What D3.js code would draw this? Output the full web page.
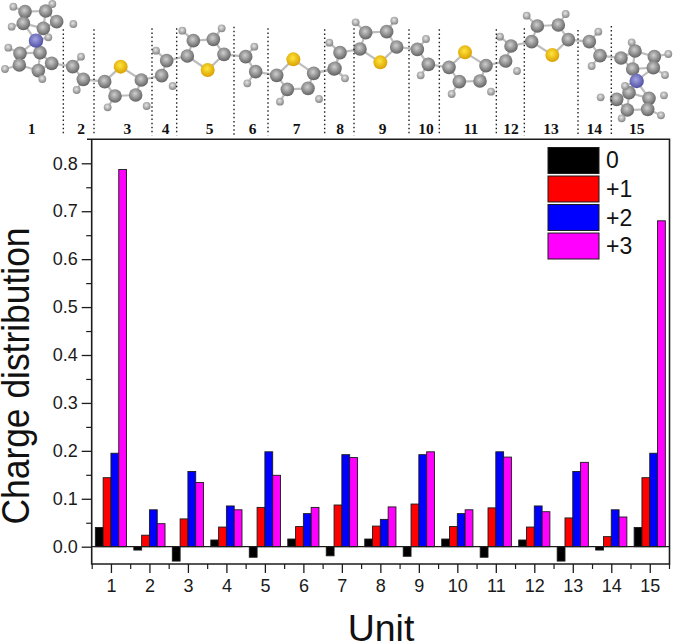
<!DOCTYPE html>
<html><head><meta charset="utf-8">
<script src="https://cdn.jsdelivr.net/npm/d3@7/dist/d3.min.js"></script>
<style>html,body{margin:0;padding:0;background:#fff}svg{display:block}</style>
</head><body><svg id="c" width="675" height="644"></svg>
<script>
const units = d3.range(1, 16);
const seriesNames = ["0", "+1", "+2", "+3"];
const seriesColors = ["#000000", "#ff0000", "#0000ff", "#ff00ff"];
const charge0 = [0.040,-0.007,-0.030,0.014,-0.022,0.016,-0.019,0.016,-0.020,0.016,-0.022,0.014,-0.030,-0.007,0.040];
const charge1 = [0.144,0.024,0.058,0.041,0.082,0.042,0.087,0.043,0.089,0.042,0.081,0.041,0.060,0.021,0.144];
const charge2 = [0.195,0.077,0.157,0.085,0.198,0.069,0.192,0.057,0.192,0.069,0.198,0.085,0.157,0.077,0.195];
const charge3 = [0.787,0.048,0.134,0.077,0.149,0.082,0.186,0.083,0.198,0.077,0.187,0.073,0.176,0.062,0.680];
const yTicks = [0,0.1,0.2,0.3,0.4,0.5,0.6,0.7,0.8];
const yMinor = [0.05,0.15,0.25,0.35,0.45,0.55,0.65,0.75];

// Molecule header, read in two 3x crops of the picture
const unitLabelsL = [[1,95],[2,243],[3,382],[4,497],[5,629],[6,758],[7,890]];
const unitLabelsR = [[8,15],[9,143],[10,273],[11,408],[12,528],[13,648],[14,778],[15,905]];
const dividersL = [[190,88],[282,88],[456,85],[530,85],[702,80],[804,85],[974,88]];
const dividersR = [[57,85],[222,88],[313,88],[484,88],[568,85],[729,90],[829,78]];
const carbonL = [[75,35],[137,33],[70,70],[170,65],[130,85],[60,160],[120,158],[155,190],[58,195],[115,212],[218,200],[250,238],[314,245],[424,240],[345,288],[407,285],[500,182],[485,227],[562,168],[672,163],[580,122],[640,118],[737,170],[767,215],[830,226],[941,220],[862,268],[924,265],[1002,207]];
const carbonR = [[15,158],[0,205],[75,147],[185,141],[92,98],[155,95],[247,148],[280,193],[342,202],[453,197],[373,245],[435,243],[528,138],[512,183],[590,125],[700,119],[607,78],[670,75],[763,125],[795,167],[858,174],[900,153],[958,170],[955,203],[893,207],[882,278],[845,298],[942,295],[877,330],[938,328]];
const hydrogenL = [[40,20],[157,12],[35,80],[220,72],[145,112],[25,143],[15,207],[127,237],[243,170],[230,270],[323,322],[440,318],[468,152],[518,258],[547,92],[665,85],[763,140],[742,250],[840,305],[957,297],[988,128]];
const hydrogenR = [[30,235],[62,67],[178,62],[273,117],[257,226],[350,282],[468,275],[495,110],[546,213],[575,47],[692,42],[790,95],[770,198],[890,127],[1000,162],[990,225],[870,258],[797,292],[987,286],[978,346],[860,355]];
const sulfurL = [[362,200],[623,210],[880,178]];
const sulfurR = [[136,187],[390,157],[652,165]];
const nitrogenL = [[108,122]];
const nitrogenR = [[905,243]];

const svg = d3.select("#c");
const x = d3.scaleLinear().domain([0.5,15.5]).range([91.7,669]);
const y = d3.scaleLinear().domain([0,0.8]).range([546.7,163.3]);
const inner = d3.scaleBand().domain(d3.range(4)).range([-15.6,15.6]);
const ink = "#1c1c1c";
const sans = "'Liberation Sans',Arial,sans-serif";

// Molecule
const cropY = d3.scaleLinear().domain([0,1020]).range([0,340]);
const cropXL = d3.scaleLinear().domain([0,1020]).range([0,340]);
const cropXR = d3.scaleLinear().domain([0,1020]).range([335,675]);
const place = (arr, sx, t) => arr.map(d => ({x:sx(d[0]), y:cropY(d[1]), t}));
const atoms = [].concat(
  place(carbonL,cropXL,"C"),place(carbonR,cropXR,"C"),
  place(hydrogenL,cropXL,"H"),place(hydrogenR,cropXR,"H"),
  place(sulfurL,cropXL,"S"),place(sulfurR,cropXR,"S"),
  place(nitrogenL,cropXL,"N"),place(nitrogenR,cropXR,"N"));
const style = {
  C:{r:6.8,a:"#cfcfcf",b:"#636363"},
  H:{r:3.9,a:"#e6e6e6",b:"#858585"},
  S:{r:7,a:"#ffe53c",b:"#d9a000"},
  N:{r:7.2,a:"#a4a4e6",b:"#4e4ea0"}
};
const defs = svg.append("defs");
Object.entries(style).forEach(([k,s])=>{
  const g = defs.append("radialGradient").attr("id","g"+k).attr("cx","45%").attr("cy","40%").attr("r","60%");
  g.append("stop").attr("offset","0%").attr("stop-color",s.a);
  g.append("stop").attr("offset","100%").attr("stop-color",s.b);
});
const bonds = [];
atoms.forEach((a,i)=>atoms.forEach((b,j)=>{
  if(j<=i) return;
  if(a.t==="H"&&b.t==="H") return;
  const d = Math.hypot(a.x-b.x,a.y-b.y);
  const hasH = a.t==="H"||b.t==="H";
  const hasS = a.t==="S"||b.t==="S";
  if(d < (hasH?15:hasS?26:22.7)) bonds.push([a,b]);
}));
svg.append("g").selectAll("line").data(bonds).join("line")
  .attr("x1",d=>d[0].x).attr("y1",d=>d[0].y).attr("x2",d=>d[1].x).attr("y2",d=>d[1].y)
  .attr("stroke","#bdbdbd").attr("stroke-width",2.2);
svg.append("g").selectAll("circle").data(atoms).join("circle")
  .attr("cx",d=>d.x).attr("cy",d=>d.y).attr("r",d=>style[d.t].r)
  .attr("fill",d=>`url(#g${d.t})`);

const dividers = [].concat(dividersL.map(d=>[cropXL(d[0]),cropY(d[1])]),dividersR.map(d=>[cropXR(d[0]),cropY(d[1])]));
svg.append("g").selectAll("line").data(dividers).join("line")
  .attr("x1",d=>d[0]).attr("x2",d=>d[0]).attr("y1",d=>d[1]).attr("y2",cropY(406))
  .attr("stroke","#222").attr("stroke-width",1.4).attr("stroke-dasharray","1.5 2.6");
const labelsTop = [].concat(unitLabelsL.map(d=>[d[0],cropXL(d[1])]),unitLabelsR.map(d=>[d[0],cropXR(d[1])]));
svg.append("g").selectAll("text").data(labelsTop).join("text")
  .attr("x",d=>d[1]).attr("y",134).attr("text-anchor","middle")
  .attr("font-family","'Liberation Serif','Times New Roman',serif").attr("font-weight","bold")
  .attr("font-size",15.5).attr("fill","#111").text(d=>d[0]);

// Bars
[charge0,charge1,charge2,charge3].forEach((vals,s)=>{
  svg.append("g").selectAll("rect").data(vals).join("rect")
    .attr("x",(d,i)=>x(units[i])+inner(s))
    .attr("width",inner.bandwidth())
    .attr("y",d=>Math.min(y(d),y(0)))
    .attr("height",d=>Math.abs(y(d)-y(0)))
    .attr("fill",seriesColors[s]).attr("stroke","#1a1a1a").attr("stroke-width",0.9);
});

// Zero line and frame
svg.append("line").attr("x1",x.range()[0]).attr("x2",x.range()[1]).attr("y1",y(0)).attr("y2",y(0))
  .attr("stroke",ink).attr("stroke-width",1.2);
svg.append("path").attr("d",`M87,139.2H669.5V564H91.7V139.2`).attr("fill","none").attr("stroke",ink).attr("stroke-width",1.6);

// Axes
const gy = svg.append("g").attr("transform","translate(91.7,0)")
  .call(d3.axisLeft(y).tickValues(yTicks).tickFormat(d3.format(".1f")).tickSize(10).tickPadding(4));
gy.select(".domain").remove();
gy.selectAll("line").attr("stroke",ink).attr("stroke-width",1.3);
gy.selectAll("text").attr("font-family",sans).attr("font-size",18).attr("fill","#1a1a1a");
const gym = svg.append("g").attr("transform","translate(91.7,0)").call(d3.axisLeft(y).tickValues(yMinor).tickFormat("").tickSize(5.5));
gym.select(".domain").remove();
gym.selectAll("line").attr("stroke",ink).attr("stroke-width",1.2);

const gx = svg.append("g").attr("transform","translate(0,564)").call(d3.axisBottom(x).tickValues(units).tickFormat(d3.format("d")).tickSize(9).tickPadding(6));
gx.select(".domain").remove();
gx.selectAll("line").attr("stroke",ink).attr("stroke-width",1.3);
gx.selectAll("text").attr("font-family",sans).attr("font-size",18).attr("fill","#1a1a1a");
const gxm = svg.append("g").attr("transform","translate(0,564)").call(d3.axisBottom(x).tickValues(units.concat([0]).map(d=>d+0.5)).tickFormat("").tickSize(5));
gxm.select(".domain").remove();
gxm.selectAll("line").attr("stroke",ink).attr("stroke-width",1.2);

// Titles
svg.append("text").attr("x",381).attr("y",641).attr("text-anchor","middle")
  .attr("font-family",sans).attr("font-size",37.5).attr("fill","#111").text("Unit");
svg.append("text").attr("transform","translate(28.5,376) rotate(-90) scale(1,1.08)").attr("text-anchor","middle")
  .attr("font-family",sans).attr("font-size",35.4).attr("fill","#111").text("Charge distribution");

// Legend
const legendY = d3.scaleBand().domain(seriesNames).range([147.5,259]).paddingInner(0.09);
const lg = svg.append("g").selectAll("g").data(seriesNames).join("g");
lg.append("rect").attr("x",548).attr("width",51).attr("y",d=>legendY(d)).attr("height",legendY.bandwidth())
  .attr("fill",(d,i)=>seriesColors[i]).attr("stroke","#1a1a1a").attr("stroke-width",1);
lg.append("text").attr("x",606).attr("y",d=>legendY(d)+legendY.bandwidth()/2+8)
  .attr("font-family",sans).attr("font-size",23).attr("fill","#111").text(d=>d);
</script></body></html>
